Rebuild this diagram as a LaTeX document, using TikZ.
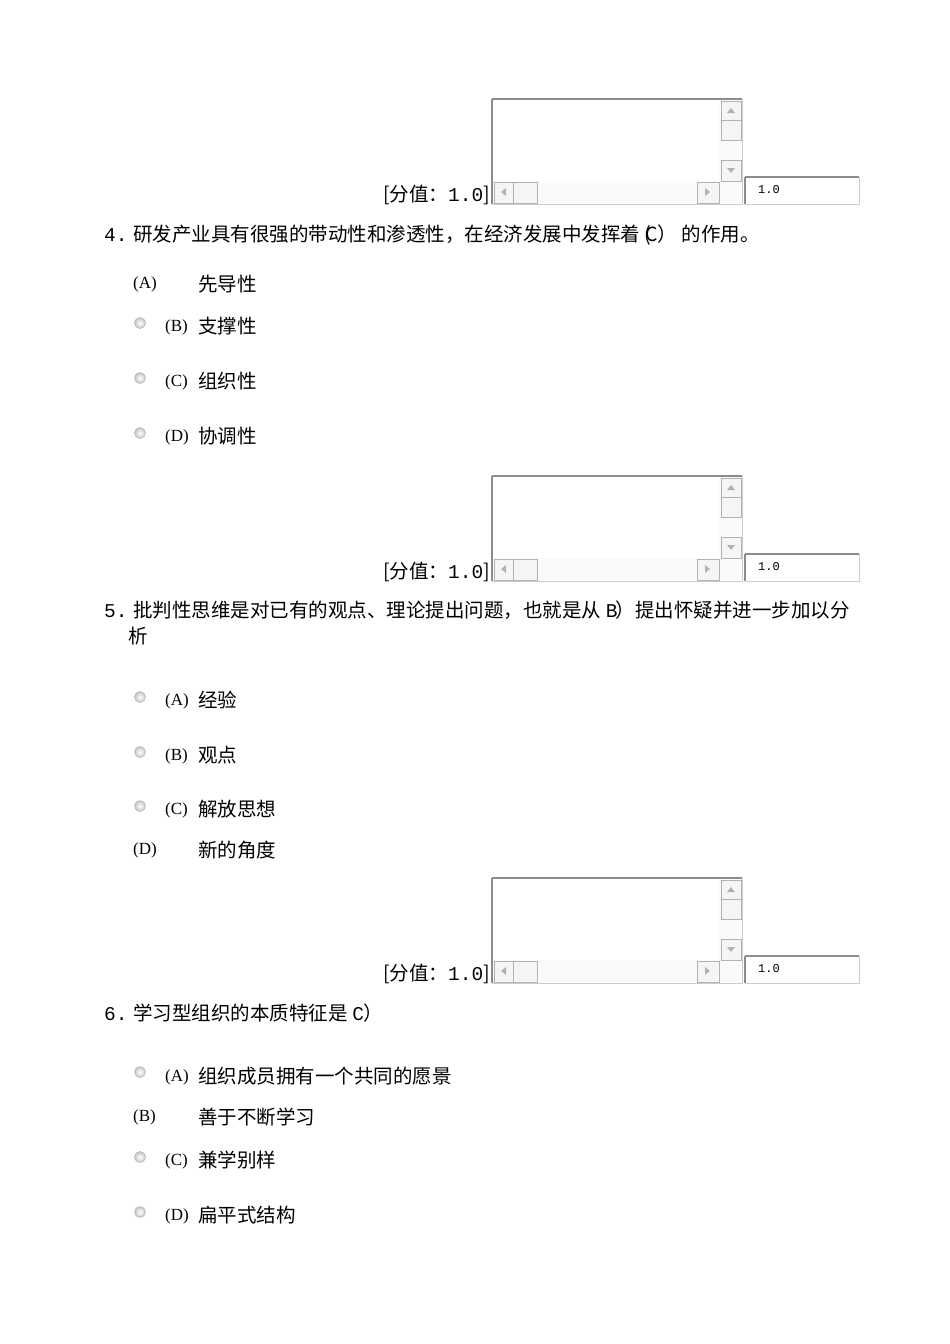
\documentclass[tikz,border=0pt]{standalone}
\usepackage{fontspec}
\setmainfont{Liberation Serif}
\newfontfamily\cjk{Noto Sans CJK SC}
\newfontfamily\mono{Liberation Mono}
\begin{document}
\begin{tikzpicture}[x=1pt,y=-1pt,
  txt/.style={anchor=west,inner sep=0pt,font=\fontsize{19.5}{19.5}\selectfont\cjk},
  lat/.style={anchor=west,inner sep=0pt,font=\fontsize{17}{17}\selectfont},
  radio/.style={circle,minimum size=11pt,inner sep=0pt,draw=gray!70,inner color=white,outer color=gray!45,shading=radial},
  sbtn/.style={draw=gray!60,fill=gray!8},
  frame/.style={draw=gray!90,line width=2pt}]
\useasboundingbox[fill=white] (0,0) rectangle (950,1344);
\newcommand\widget[1]{%
\begin{scope}[yshift=-#1pt]
 \fill[gray!4] (492,99) rectangle (741,203);
 \fill[white] (492,99) rectangle (719,181);
 \draw[frame] (492,99) -- (742,99) (492,99) -- (492,204);
 \draw[gray!40] (492,204) -- (742,204) -- (742,99);
 \draw[sbtn] (721,101) rectangle (741,120);
 \fill[gray!60] (727,113) -- (735,113) -- (731,108) -- cycle;
 \draw[sbtn] (721,120) rectangle (741,140);
 \draw[sbtn] (721,160) rectangle (741,181);
 \fill[gray!60] (727,168) -- (735,168) -- (731,173) -- cycle;
 \draw[sbtn] (494,182) rectangle (513,203);
 \fill[gray!60] (506,188) -- (506,196) -- (501,192) -- cycle;
 \draw[sbtn] (513,182) rectangle (537,203);
 \draw[sbtn] (697,182) rectangle (719,203);
 \fill[gray!60] (705,188) -- (705,196) -- (710,192) -- cycle;
 \fill[white] (745,177) rectangle (859,204);
 \draw[frame] (745,177) -- (859,177) (745,177) -- (745,204);
 \draw[gray!40] (745,204) -- (859,204) -- (859,177);
\end{scope}}
\newcommand\score[2]{%
 \node[anchor=east,inner sep=0pt,font=\fontsize{19.5}{19.5}\selectfont\cjk] (#1a) at (490,#2) {[分值：{\mono 1.0}]};
 \node[anchor=west,inner sep=0pt,font=\fontsize{12}{12}\selectfont\mono] (#1b) at (758,#2-5) {1.0};}
\widget{0}\score{s1}{195}
\widget{377}\score{s2}{572}
\widget{779}\score{s3}{974}

\node[txt] (q4) at (104,235) {{\mono 4.} 研发产业具有很强的带动性和渗透性，在经济发展中发挥着 (\kern-0.3em C） 的作用。};
\node[lat] (q4a) at (133,284) {(A)}; \node[txt] (q4at) at (198,284) {先导性};
\node[radio] (r4b) at (140,323) {}; \node[lat] (q4b) at (165,327) {(B)}; \node[txt] (q4bt) at (198,326) {支撑性};
\node[radio] (r4c) at (140,378) {}; \node[lat] (q4c) at (165,382) {(C)}; \node[txt] (q4ct) at (198,381) {组织性};
\node[radio] (r4d) at (140,433) {}; \node[lat] (q4d) at (165,437) {(D)}; \node[txt] (q4dt) at (198,436) {协调性};

\node[txt] (q5) at (104,610) {{\mono 5.} 批判性思维是对已有的观点、理论提出问题，也就是从 {\mono B}\kern-0.1em）提出怀疑并进一步加以分};
\node[txt] (q5l) at (128,636) {析};
\node[radio] (r5a) at (140,697) {}; \node[lat] (q5a) at (165,701) {(A)}; \node[txt] (q5at) at (198,700) {经验};
\node[radio] (r5b) at (140,752) {}; \node[lat] (q5b) at (165,756) {(B)}; \node[txt] (q5bt) at (198,755) {观点};
\node[radio] (r5c) at (140,806) {}; \node[lat] (q5c) at (165,810) {(C)}; \node[txt] (q5ct) at (198,809) {解放思想};
\node[lat] (q5d) at (133,850) {(D)}; \node[txt] (q5dt) at (198,850) {新的角度};

\node[txt] (q6) at (104,1013) {{\mono 6.} 学习型组织的本质特征是 {\mono C}）};
\node[radio] (r6a) at (140,1072) {}; \node[lat] (q6a) at (165,1077) {(A)}; \node[txt] (q6at) at (198,1076) {组织成员拥有一个共同的愿景};
\node[lat] (q6b) at (133,1117) {(B)}; \node[txt] (q6bt) at (198,1117) {善于不断学习};
\node[radio] (r6c) at (140,1157) {}; \node[lat] (q6c) at (165,1161) {(C)}; \node[txt] (q6ct) at (198,1160) {兼学别样};
\node[radio] (r6d) at (140,1212) {}; \node[lat] (q6d) at (165,1216) {(D)}; \node[txt] (q6dt) at (198,1215) {扁平式结构};
\end{tikzpicture}
\end{document}
